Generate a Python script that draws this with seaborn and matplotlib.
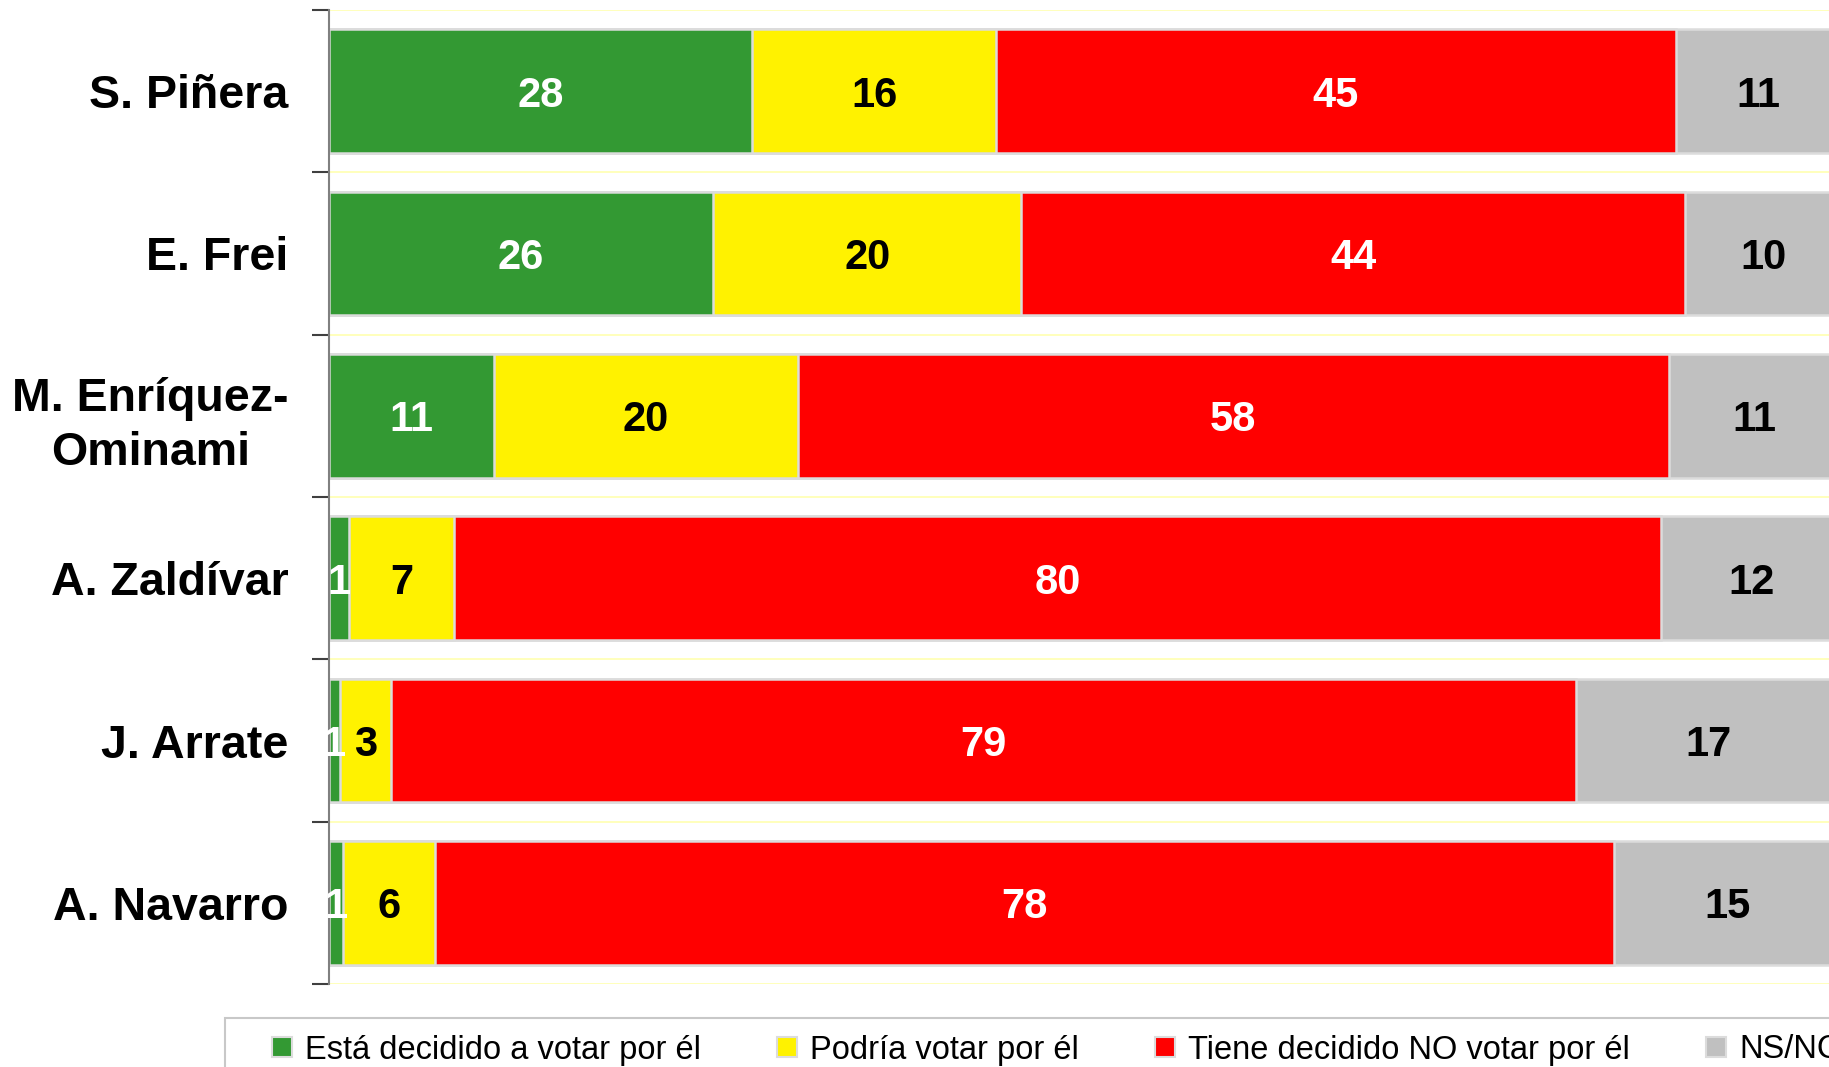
import numpy as np
import pandas as pd
import matplotlib
matplotlib.use("Agg")
import matplotlib.pyplot as plt
import seaborn as sns
from matplotlib import font_manager
from matplotlib.patches import Patch, Rectangle

# ---- data ----
candidates = ["S. Piñera", "E. Frei", "M. Enríquez-\nOminami", "A. Zaldívar", "J. Arrate", "A. Navarro"]
series_names = ["Está decidido a votar por él", "Podría votar por él",
                "Tiene decidido NO votar por él", "NS/NC"]
decidido = [28.0, 25.4, 10.9, 1.3, 0.7, 0.9]
podria = [16.1, 20.4, 20.1, 7.0, 3.4, 6.1]
no_votar = [45.0, 43.9, 57.6, 79.8, 78.4, 78.0]
nsnc = [10.9, 10.3, 11.4, 11.9, 17.5, 15.0]
labels_decidido = [28, 26, 11, 1, 1, 1]
labels_podria = [16, 20, 20, 7, 3, 6]
labels_no = [45, 44, 58, 80, 79, 78]
labels_nsnc = [11, 10, 11, 12, 17, 15]

colors = ["#339933", "#FFF200", "#FF0000", "#C0C0C0"]
text_colors = ["white", "black", "white", "black"]

sns.set_theme(style="white")
installed = {f.name for f in font_manager.fontManager.ttflist}
main_font = "Liberation Sans" if "Liberation Sans" in installed else "DejaVu Sans"
legend_font = "Liberation Sans Narrow" if "Liberation Sans Narrow" in installed else main_font
plt.rcParams["font.family"] = [main_font, "DejaVu Sans"]
plt.rcParams["text.color"] = "black"
plt.rcParams["ytick.color"] = "black"

W, H, DPI = 1829, 1067, 100
fig = plt.figure(figsize=(W / DPI, H / DPI), dpi=DPI)
ax = fig.add_axes([329 / W, 1 - 984 / H, 1512 / W, (984 - 10) / H])

series = [decidido, podria, no_votar, nsnc]
label_sets = [labels_decidido, labels_podria, labels_no, labels_nsnc]
cum = np.cumsum(np.array(series, dtype=float), axis=0)

df = pd.DataFrame({"candidate": candidates})
# draw cumulative bars from the widest to the narrowest so segments stack
for i in range(3, -1, -1):
    df["value"] = cum[i]
    sns.barplot(data=df, x="value", y="candidate", orient="h", ax=ax,
                color=colors[i], saturation=1, width=0.76,
                edgecolor="#dcdcdc", linewidth=1.8, errorbar=None, order=candidates)

# value labels
for i in range(4):
    starts = cum[i] - np.array(series[i])
    for j in range(len(candidates)):
        xc = starts[j] + series[i][j] / 2
        ax.text(xc, j, str(label_sets[i][j]), ha="center", va="center_baseline",
                color=text_colors[i], fontsize=30, fontweight="bold", family=main_font)

ax.set_xlim(0, 100)
ax.set_ylim(len(candidates) - 0.5, -0.5)
ax.set_xlabel("")
ax.set_ylabel("")
ax.set_xticks([])
ax.set_yticks(range(len(candidates)))
ax.set_yticklabels(candidates, fontsize=33.5, fontweight="bold", ha="right",
                   multialignment="center", linespacing=1.3, color="black")
ax.tick_params(axis="y", which="major", length=0, pad=29, labelcolor="black")
ax.set_yticks(np.arange(-0.5, len(candidates), 1.0), minor=True)
ax.tick_params(axis="y", which="minor", length=12, width=1.5, color="#404040", left=True)
ax.grid(False)
ax.grid(axis="y", which="minor", color="#FFFFB0", linewidth=1.2)
ax.set_axisbelow(True)
for s in ["top", "right", "bottom"]:
    ax.spines[s].set_visible(False)
ax.spines["left"].set_color("#808080")
ax.spines["left"].set_linewidth(1.5)

# legend frame (extends past the figure edges as in the reference)
fig.patches.append(Rectangle((225 / W, -0.1), 1.2, (1 - 1018 / H) + 0.1,
                             transform=fig.transFigure, facecolor="white",
                             edgecolor="#c8c8c8", linewidth=1.5, zorder=0))
handles = [Patch(facecolor=c, edgecolor="#dcdcdc", linewidth=1.5) for c in colors]
leg = fig.legend(handles, series_names, loc="center left", ncol=4,
                 bbox_to_anchor=(272 / W, 1 - 1050 / H), frameon=False,
                 prop={"family": legend_font, "size": 23.5}, columnspacing=2.35,
                 handlelength=0.6, handleheight=0.6, handletextpad=0.4,
                 borderpad=0, borderaxespad=0)
for t in leg.get_texts():
    t.set_color("black")

fig.savefig("out.png", dpi=DPI)
